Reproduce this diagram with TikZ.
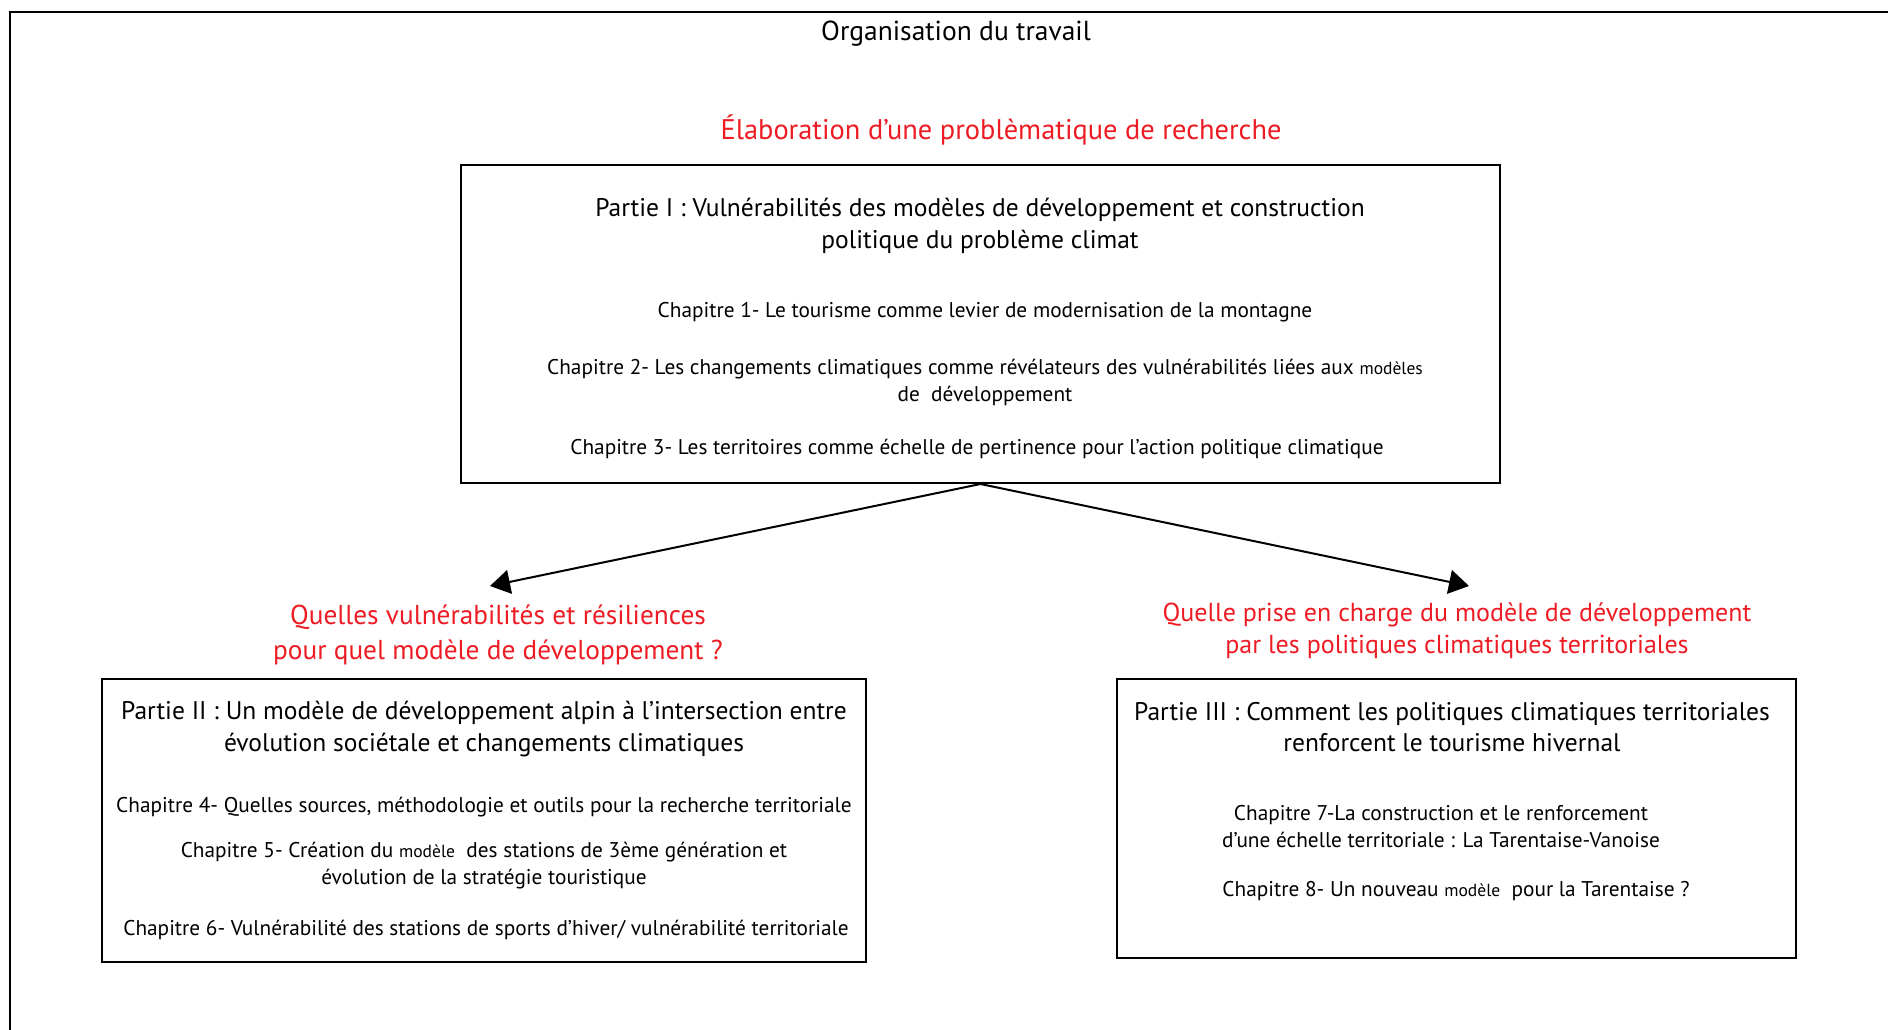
\documentclass[tikz,border=0pt]{standalone}
\usepackage{fontspec}
\setmainfont{PT Sans}
\usetikzlibrary{arrows.meta}
\definecolor{qred}{RGB}{237,28,36}
\tikzset{
  box/.style={draw, line width=2pt, rectangle, inner sep=0pt},
  txt/.style={inner sep=0pt, align=center},
  big/.style={txt, font=\fontsize{25.5}{31.5}\selectfont},
  chap/.style={txt, font=\fontsize{21.3}{27}\selectfont},
  question/.style={txt, text=qred, font=\fontsize{27.3}{35}\selectfont},
  link/.style={line width=2pt, -{Triangle[length=20pt,width=24pt]}}
}
\newcommand{\sm}[1]{{\fontsize{17.5}{20}\selectfont #1}}
\begin{document}
\begin{tikzpicture}[x=1pt,y=-1pt]
\useasboundingbox (0,0) rectangle (1888,1030);
\draw[line width=2pt] (1888,12) -- (10,12) -- (10,1030);
\node[txt, font=\fontsize{27.5}{30}\selectfont] (title) at (956,34) {Organisation du travail};
\node[question, font=\fontsize{28.4}{34}\selectfont] (q1) at (1001,130) {Élaboration d’une problèmatique de recherche};
% Box I
\node[box, minimum width=1039pt, minimum height=318pt] (b1) at (980.5,324) {};
\node[big] (p1) at (980,226) {Partie I : Vulnérabilités des modèles de développement et construction\\politique du problème climat};
\node[chap] (c1) at (985,312) {Chapitre 1- Le tourisme comme levier de modernisation de la montagne};
\node[chap] (c2) at (985,382) {Chapitre 2- Les changements climatiques comme révélateurs des vulnérabilités liées aux \sm{modèles}\\de~ développement};
\node[chap] (c3) at (977,449) {Chapitre 3- Les territoires comme échelle de pertinence pour l’action politique climatique};
% questions
\node[question] (q2) at (498,635) {Quelles vulnérabilités et résiliences\\pour quel modèle de développement ?};
\node[question, font=\fontsize{26}{32}\selectfont] (q3) at (1457,631) {Quelle prise en charge du modèle de développement\\par les politiques climatiques territoriales};
\coordinate (t2) at (490,586);
\coordinate (t3) at (1469,586);
\draw[link] (b1.south) -- (t2);
\draw[link] (b1.south) -- (t3);
% Box II
\node[box, minimum width=764pt, minimum height=283pt] (b2) at (484,820.5) {};
\node[big] (p2) at (484,729) {Partie II : Un modèle de développement alpin à l’intersection entre\\évolution sociétale et changements climatiques};
\node[chap] (c4) at (484,807) {Chapitre 4- Quelles sources, méthodologie et outils pour la recherche territoriale};
\node[chap] (c5) at (484,866) {Chapitre 5- Création du \sm{modèle}~ des stations de 3ème génération et\\évolution de la stratégie touristique};
\node[chap] (c6) at (486,930) {Chapitre 6- Vulnérabilité des stations de sports d’hiver/ vulnérabilité territoriale};
% Box III
\node[box, minimum width=679pt, minimum height=279pt] (b3) at (1456.5,818.5) {};
\node[big] (p3) at (1452,727) {Partie III : Comment les politiques climatiques territoriales\\renforcent le tourisme hivernal};
\node[chap] (c7) at (1441,827) {Chapitre 7-La construction et le renforcement\\d’une échelle territoriale : La Tarentaise-Vanoise};
\node[chap] (c8) at (1456,891) {Chapitre 8- Un nouveau \sm{modèle}~ pour la Tarentaise ?};
\end{tikzpicture}
\end{document}
